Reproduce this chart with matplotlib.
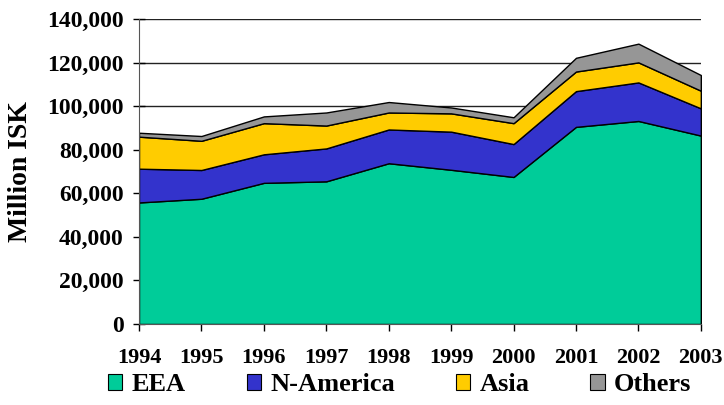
import numpy as np
import matplotlib.pyplot as plt
from matplotlib.patches import Patch
from matplotlib.ticker import FuncFormatter

plt.rcParams['font.family'] = ['Liberation Serif', 'DejaVu Serif']
plt.rcParams['font.weight'] = 'bold'

years = [1994, 1995, 1996, 1997, 1998, 1999, 2000, 2001, 2002, 2003]
eea = [55800, 57500, 64800, 65500, 73800, 70800, 67500, 90500, 93200, 86500]
n_america = [15500, 13200, 13100, 15100, 15500, 17500, 15100, 16400, 17700, 12500]
asia = [14700, 13400, 14300, 10500, 7800, 8400, 9600, 9000, 9200, 8100]
others = [1800, 2200, 3100, 6000, 4800, 2700, 2700, 6300, 8600, 7200]

labels = ['EEA', 'N-America', 'Asia', 'Others']
colors = ['#00CC99', '#3333CC', '#FFCC00', '#969696']

fig = plt.figure(figsize=(7.24, 4.05), dpi=100)
ax = fig.add_axes([0.192, 0.2, 0.776, 0.753])

ax.stackplot(years, eea, n_america, asia, others, colors=colors,
             edgecolor='black', linewidth=1, zorder=2)

ax.set_xlim(1994, 2003)
ax.set_ylim(0, 140000)
ax.set_xticks(years)
ax.set_yticks(np.arange(0, 140001, 20000))
ax.yaxis.set_major_formatter(FuncFormatter(lambda v, p: f'{int(v):,}'))
ax.grid(axis='y', color='#222222', linewidth=1, zorder=0)
ax.set_axisbelow(True)

for s in ['top', 'right']:
    ax.spines[s].set_visible(False)
ax.spines['left'].set_color('#555555')
ax.spines['bottom'].set_color('#555555')

ax.tick_params(axis='y', direction='inout', length=8, width=1, labelsize=17, pad=7)
ax.tick_params(axis='x', direction='out', length=5, width=1, labelsize=16, pad=12)

ax.set_ylabel('Million ISK', fontsize=20, fontweight='bold')
ax.yaxis.set_label_coords(-0.188, 0.5)

handles = [Patch(facecolor=c, edgecolor='black', linewidth=0.8) for c in colors]
fig.legend(handles, labels, loc='center', bbox_to_anchor=(0.552, 0.05), ncol=4,
           frameon=False, fontsize=19, handlelength=0.55, handleheight=0.55,
           handletextpad=0.35, columnspacing=2.3)

fig.savefig('out.png', dpi=100)
